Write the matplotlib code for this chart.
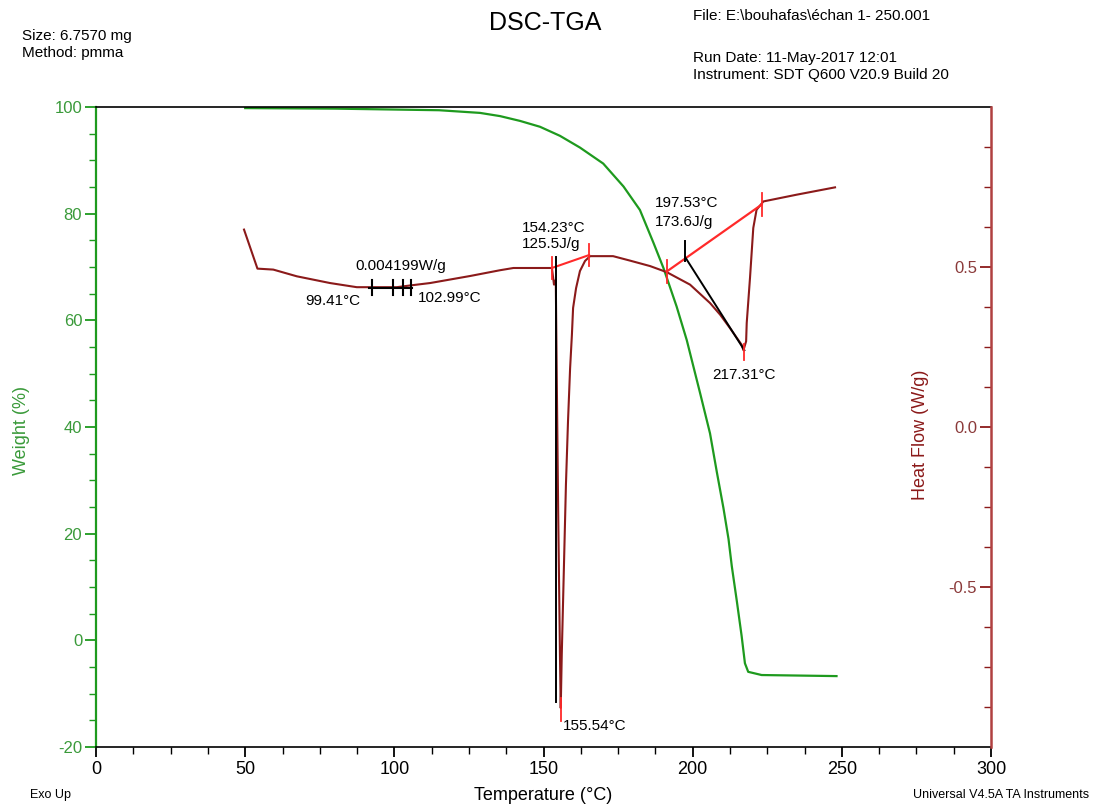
import matplotlib
matplotlib.use("Agg")
import matplotlib.pyplot as plt
import numpy as np
from matplotlib.ticker import MultipleLocator, FixedLocator

plt.rcParams['font.family'] = ['Liberation Sans', 'DejaVu Sans']
plt.rcParams['axes.unicode_minus'] = False

# ---- data ----
temp_tga = [50, 80, 115, 128.7, 135.4, 142.1, 148.8, 155.5, 162.2, 170.0, 176.8, 182.3,
            186.8, 190.2, 194.6, 198.0, 202.5, 205.8, 208.1, 210.3, 212.0, 213.1, 214.8,
            216.4, 217.5, 218.6, 223.1, 248.2]
weight = [99.8, 99.7, 99.4, 98.9, 98.3, 97.4, 96.3, 94.6, 92.4, 89.4, 85.1, 80.7,
          74.6, 69.8, 62.6, 56.3, 46.3, 38.8, 31.5, 24.8, 19.0, 13.9, 7.3,
          0.8, -4.3, -5.9, -6.5, -6.7]

temp_hf = [49.6, 54.1, 59.4, 67.3, 78.4, 87.4, 91.8, 100.8, 105.8, 112.0, 125.4, 135.4,
           139.9, 151.1, 152.8, 153.5, 154.1, 154.5, 154.9, 155.5, 155.76, 156.1, 156.9,
           157.5, 158.2, 158.9, 159.5, 159.9, 160.9, 162.2, 163.9, 165.6, 173.3, 179.0,
           185.7, 191.3, 199.1, 205.8, 209.2, 212.5, 216.4, 217.0, 217.9, 218.1, 219.2,
           220.3, 221.4, 223.7, 234.8, 247.7]
heat_flow = [0.617, 0.495, 0.492, 0.471, 0.45, 0.437, 0.437, 0.437, 0.443, 0.45, 0.472, 0.49,
             0.497, 0.497, 0.497, 0.445, 0.46, 0.09, -0.263, -0.713, -0.878, -0.713, -0.409,
             -0.181, 0.019, 0.184, 0.288, 0.372, 0.434, 0.4875, 0.519, 0.534, 0.534, 0.52,
             0.503, 0.484, 0.445, 0.3875, 0.351, 0.309, 0.257, 0.24, 0.268, 0.325, 0.466,
             0.622, 0.679, 0.705, 0.726, 0.749]

# glass transition annotation
tg_temps = [92.4, 99.41, 102.99, 105.5]
tg_level = 0.434
# first melting peak: integration baseline, onset, peak
peak1_base_t = [152.8, 165.3]
peak1_base_hf = [0.497, 0.5375]
peak1_onset = 154.23
peak1_peak = 155.54
peak1_peak_hf = -0.878
# second peak
peak2_base_t = [191.3, 223.1]
peak2_base_hf = [0.486, 0.695]
peak2_onset = 197.53
peak2_onset_hf = 0.53
peak2_peak = 217.31
peak2_peak_hf = 0.24

green = '#1e9a1e'
dred = '#8b1a1a'
red = '#ff2a2a'

fig = plt.figure(figsize=(10.94, 8.09), dpi=100)
ax = fig.add_axes([0.0878, 0.0766, 0.8181, 0.7911])
ax2 = ax.twinx()

ax.plot(temp_tga, weight, color=green, lw=1.6)
ax.set_xlim(0, 300)
ax.set_ylim(-20, 100)
ax.xaxis.set_major_locator(MultipleLocator(50))
ax.xaxis.set_minor_locator(MultipleLocator(12.5))
ax.yaxis.set_major_locator(MultipleLocator(20))
ax.yaxis.set_minor_locator(MultipleLocator(5))
ax.tick_params(axis='x', which='major', length=7, width=1.3, labelsize=13, pad=3)
ax.tick_params(axis='x', which='minor', length=5, width=1.0)
ax.tick_params(axis='y', which='major', length=8, width=1.3, colors=green, labelsize=12, pad=2)
ax.tick_params(axis='y', which='minor', length=5, width=1.0, colors=green)
for lab in ax.get_yticklabels():
    lab.set_color('#3a9a3a')

ax.spines['left'].set_color(green)
ax.spines['left'].set_linewidth(1.6)
ax.spines['bottom'].set_linewidth(1.2)
ax.spines['top'].set_linewidth(1.2)
ax.spines['right'].set_visible(False)

ax.set_ylabel('Weight (%)', color='#3a9a3a', fontsize=13)
ax.yaxis.set_label_coords(-0.074, 0.495)
ax.set_xlabel('Temperature (°C)', fontsize=13)
ax.xaxis.set_label_coords(0.5, -0.062)

# heat flow
ax2.plot(temp_hf, heat_flow, color=dred, lw=1.5)
ax2.set_ylim(-1.0, 1.0)
ax2.yaxis.set_major_locator(FixedLocator([-0.5, 0.0, 0.5]))
minors = [v for v in np.arange(-0.875, 1.0, 0.125) if abs(v % 0.5) > 1e-9 and abs(v % 0.5 - 0.5) > 1e-9]
ax2.yaxis.set_minor_locator(FixedLocator(minors))
ax2.tick_params(axis='y', which='major', direction='in', length=8, width=1.3, colors=dred,
                labelsize=12, pad=-10)
ax2.tick_params(axis='y', which='minor', direction='in', length=5, width=1.0, colors=dred)
for lab in ax2.get_yticklabels():
    lab.set_horizontalalignment('right')
    lab.set_color('#8b3a3a')
ax2.yaxis.set_major_formatter(matplotlib.ticker.FormatStrFormatter('%.1f'))
ax2.spines['right'].set_color('#b04040')
ax2.spines['right'].set_linewidth(1.8)
ax2.spines['left'].set_visible(False)
ax2.spines['top'].set_visible(False)
ax2.spines['bottom'].set_visible(False)
ax2.set_ylabel('Heat Flow (W/g)', color=dred, fontsize=13)
ax2.yaxis.set_label_coords(0.912, 0.488)

# --- annotations ---
# glass transition
ax2.plot([tg_temps[0] - 1, tg_temps[-1] + 0.5], [tg_level, tg_level], color='black', lw=1.5)
for t in tg_temps:
    ax2.plot([t, t], [tg_level - 0.022, tg_level + 0.025], color='black', lw=1.5)
ax2.text(86.8, 0.503, '0.004199W/g', fontsize=11, va='center', ha='left')
ax2.text(70.0, 0.394, '99.41°C', fontsize=11, va='center', ha='left')
ax2.text(107.9, 0.403, '102.99°C', fontsize=11, va='center', ha='left')

# peak 1
ax2.plot(peak1_base_t, peak1_base_hf, color=red, lw=1.5)
for t, h in zip(peak1_base_t, peak1_base_hf):
    ax2.plot([t, t], [h - 0.035, h + 0.035], color=red, lw=1.3)
ax2.plot([peak1_onset, peak1_onset], [0.53, peak1_peak_hf + 0.02], color='black', lw=1.4)
ax2.plot([peak1_peak + 0.2, peak1_peak + 0.2], [peak1_peak_hf - 0.04, peak1_peak_hf + 0.03],
         color=red, lw=1.3)
ax2.text(142.8, 0.622, '154.23°C', fontsize=11, va='center', ha='left')
ax2.text(142.8, 0.572, '125.5J/g', fontsize=11, va='center', ha='left')
ax2.text(156.5, -0.934, '155.54°C', fontsize=11, va='center', ha='left')

# peak 2
ax2.plot(peak2_base_t, peak2_base_hf, color=red, lw=1.6)
for t, h in zip(peak2_base_t, peak2_base_hf):
    ax2.plot([t, t], [h - 0.035, h + 0.035], color=red, lw=1.3)
ax2.plot([peak2_onset, peak2_peak], [peak2_onset_hf, peak2_peak_hf], color='black', lw=1.4)
ax2.plot([peak2_onset, peak2_onset], [peak2_onset_hf - 0.01, peak2_onset_hf + 0.05],
         color='black', lw=1.4)
ax2.plot([peak2_peak, peak2_peak], [peak2_peak_hf - 0.03, peak2_peak_hf + 0.02],
         color=red, lw=1.3)
ax2.text(187.4, 0.700, '197.53°C', fontsize=11, va='center', ha='left')
ax2.text(187.4, 0.640, '173.6J/g', fontsize=11, va='center', ha='left')
ax2.text(206.5, 0.1625, '217.31°C', fontsize=11, va='center', ha='left')

# --- header / footer texts ---
fig.text(0.498, 0.972, 'DSC-TGA', fontsize=18, ha='center', va='center')
fig.text(0.020, 0.955, 'Size: 6.7570 mg', fontsize=11, ha='left', va='center')
fig.text(0.020, 0.934, 'Method: pmma', fontsize=11, ha='left', va='center')
fig.text(0.633, 0.980, 'File: E:\\bouhafas\\échan 1- 250.001', fontsize=11, ha='left', va='center')
fig.text(0.633, 0.928, 'Run Date: 11-May-2017 12:01', fontsize=11, ha='left', va='center')
fig.text(0.633, 0.907, 'Instrument: SDT Q600 V20.9 Build 20', fontsize=11, ha='left', va='center')
fig.text(0.027, 0.017, 'Exo Up', fontsize=9, ha='left', va='center')
fig.text(0.996, 0.017, 'Universal V4.5A TA Instruments', fontsize=9, ha='right', va='center')

fig.savefig('out.png', dpi=100)
